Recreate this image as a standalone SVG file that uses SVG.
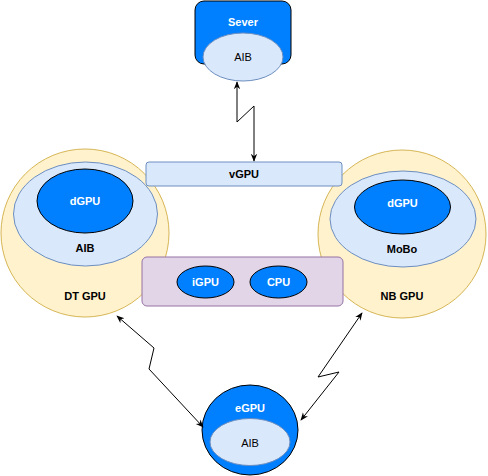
<svg xmlns="http://www.w3.org/2000/svg" width="488" height="476" viewBox="0 0 488 476">
<defs>
<style>
text{font-family:"Liberation Sans",Arial,sans-serif;font-size:11px;text-anchor:middle;dominant-baseline:central}
.b{font-weight:bold}
.w{fill:#ffffff}
.blue{fill:#007fff;stroke:#000000;stroke-width:1}
.light{fill:#dae8fc;stroke:#6c8ebf;stroke-width:1}
.yellow{fill:#fff2cc;stroke:#d6b656;stroke-width:1}
.purple{fill:#e1d5e7;stroke:#9673a6;stroke-width:1}
.conn{fill:none;stroke:#000000;stroke-width:1;marker-start:url(#a);marker-end:url(#a)}
</style>
<marker id="a" viewBox="0 0 10 10" refX="9" refY="5" markerWidth="8" markerHeight="8" orient="auto-start-reverse" markerUnits="userSpaceOnUse">
<path d="M0,1 L10,5 L0,9 L3,5 Z" fill="#000000"/>
</marker>
</defs>
<g id="dtgpu">
<circle class="yellow" cx="85" cy="233" r="84"/>
<ellipse class="light" cx="85.5" cy="214" rx="72" ry="52"/>
<ellipse class="blue" cx="85" cy="201" rx="48" ry="32"/>
<text class="b w" x="85" y="201">dGPU</text>
<text class="b" x="85" y="248">AIB</text>
<text class="b" x="85" y="296">DT GPU</text>
</g>
<g id="nbgpu">
<circle class="yellow" cx="402" cy="234" r="84"/>
<ellipse class="light" cx="403" cy="219" rx="73" ry="48"/>
<ellipse class="blue" cx="402.5" cy="207" rx="48" ry="27"/>
<text class="b w" x="402.5" y="203">dGPU</text>
<text class="b" x="402" y="249">MoBo</text>
<text class="b" x="402" y="296">NB GPU</text>
</g>
<g id="vgpu">
<rect class="light" x="146" y="162" width="196" height="24" rx="3"/>
<text class="b" x="244" y="174">vGPU</text>
</g>
<g id="host">
<rect class="purple" x="142" y="257" width="201" height="49" rx="5"/>
<g id="igpu">
<ellipse class="blue" cx="205.5" cy="282" rx="28.5" ry="16"/>
<text class="b w" x="205.5" y="282">iGPU</text>
</g>
<g id="cpu">
<ellipse class="blue" cx="278.5" cy="282" rx="28.5" ry="16"/>
<text class="b w" x="278.5" y="282">CPU</text>
</g>
</g>
<g id="server">
<rect class="blue" x="195" y="1" width="96" height="63" rx="9"/>
<text class="b w" x="243" y="22">Sever</text>
<ellipse class="light" cx="243" cy="57" rx="40" ry="24"/>
<text x="243" y="57">AIB</text>
</g>
<g id="egpu">
<ellipse class="blue" cx="250" cy="430" rx="48" ry="45"/>
<text class="b w" x="250" y="408">eGPU</text>
<ellipse class="light" cx="250" cy="442" rx="40" ry="23.5"/>
<text x="250" y="443">AIB</text>
</g>
<g id="connectors">
<path class="conn" d="M237,82 L237,122 L254,106 L254,161"/>
<path class="conn" d="M117,316 L154,348 L149,369 L203,427"/>
<path class="conn" d="M362,313 L318,377 L339,372 L301,420"/>
</g>
</svg>
